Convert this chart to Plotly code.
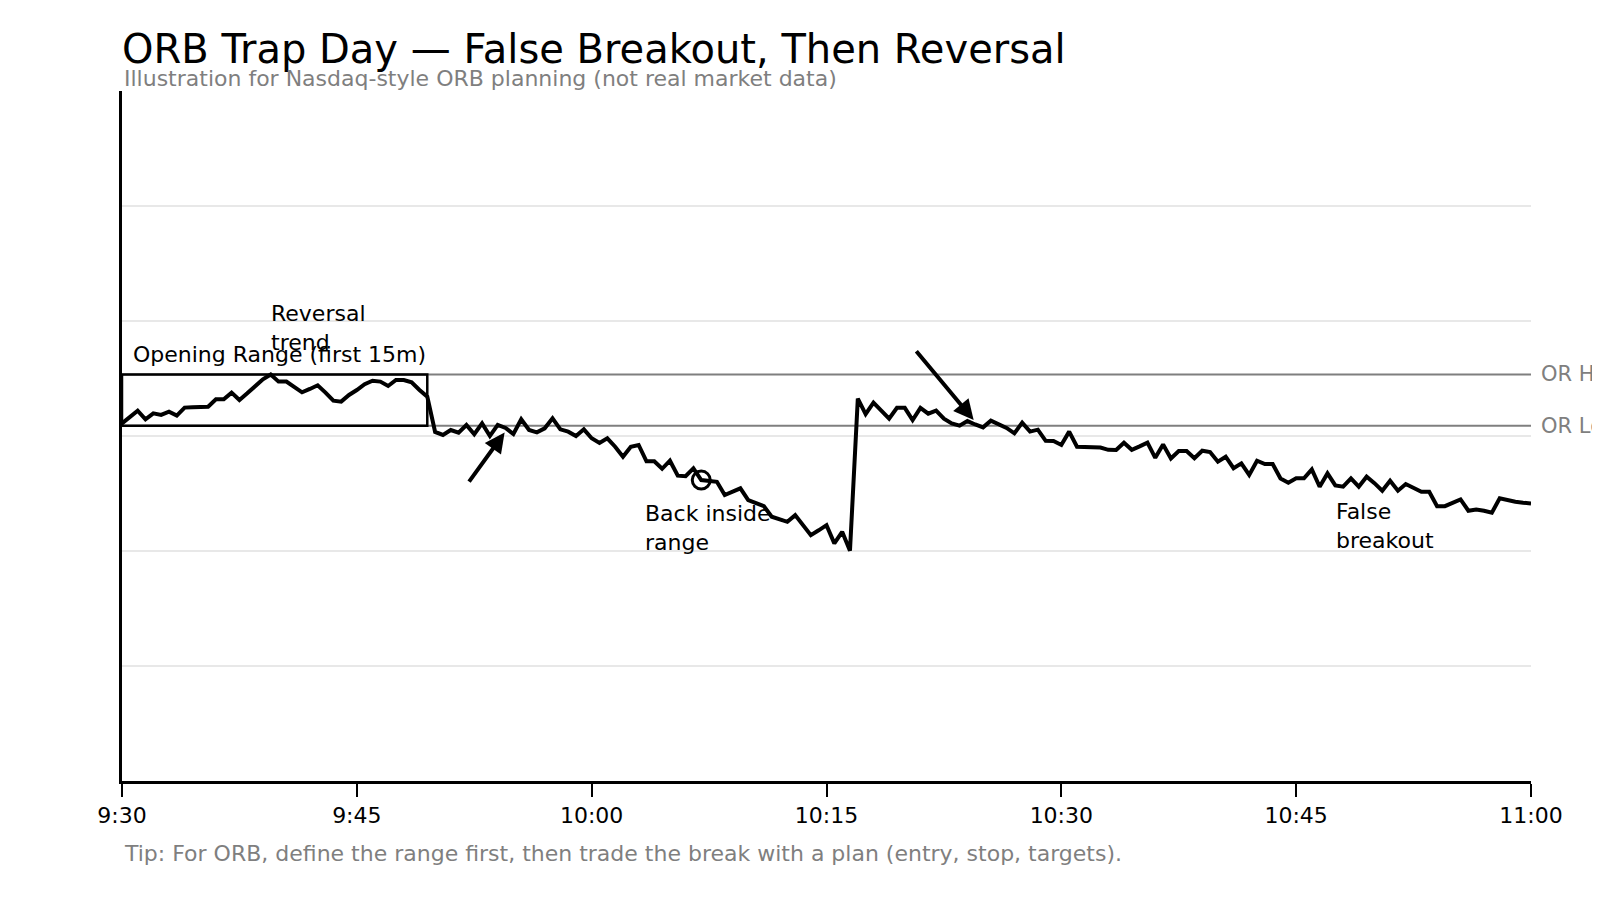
import pandas as pd
import plotly.graph_objects as go

# ---------------- data (illustrative 30-second prices) ----------------
price = [
    101.10, 101.70, 102.20, 101.45, 101.97, 101.83, 102.12, 101.77, 102.47, 102.50,
    102.55, 102.55, 103.19, 103.19, 103.77, 103.13, 103.71, 104.35, 104.93, 105.35,
    104.73, 104.73, 104.30, 103.80, 104.09, 104.41, 103.77, 103.07, 102.99, 103.57,
    104.00, 104.50, 104.81, 104.73, 104.35, 104.87, 104.87, 104.67, 104.00, 103.42,
    100.35, 100.09, 100.52, 100.29, 100.96, 100.15, 101.10, 100.00, 100.96, 100.70,
    100.17, 101.45, 100.52, 100.32, 100.67, 101.54, 100.58, 100.38, 100.00, 100.58,
    99.80, 99.40, 99.80, 99.07, 98.20, 99.07, 99.22, 97.80, 97.80, 97.15,
    97.85, 96.55, 96.50, 97.19, 96.17, 96.10, 96.02, 94.87, 95.20, 95.45,
    94.43, 94.20, 93.90, 92.98, 92.80, 92.54, 93.12, 92.20, 91.38, 91.80,
    92.25, 90.66, 91.67, 90.02, 103.25, 101.90, 102.90, 102.20, 101.50, 102.45,
    102.45, 101.39, 102.45, 101.94, 102.20, 101.50, 101.10, 100.90, 101.30, 101.00,
    100.75, 101.33, 101.04, 100.70, 100.23, 101.16, 100.38, 100.55, 99.58, 99.56,
    99.22, 100.38, 99.07, 99.07, 99.07, 99.00, 98.80, 98.78, 99.42, 98.80,
    99.10, 99.42, 98.10, 99.26, 98.05, 98.70, 98.69, 98.06, 98.72, 98.60,
    97.77, 98.20, 97.20, 97.62, 96.61, 97.85, 97.56, 97.56, 96.30, 95.94,
    96.32, 96.32, 97.10, 95.59, 96.75, 95.70, 95.59, 96.32, 95.59, 96.46,
    95.90, 95.24, 96.11, 95.24, 95.82, 95.50, 95.15, 95.15, 93.90, 93.90,
    94.20, 94.49, 93.50, 93.60, 93.50, 93.33, 94.58, 94.40, 94.28, 94.20,
    94.14,
]
session_start = "2024-01-02 09:30:00"
tick_labels = ["9:30", "9:45", "10:00", "10:15", "10:30", "10:45", "11:00"]
OR_HIGH = 105.35
OR_LOW = 100.90
OR_END_MIN = 19.5          # opening-range box right edge (minutes after open)
marker_index = 74          # "back inside" circle

start = pd.Timestamp(session_start)
times = pd.date_range(start, periods=len(price), freq="30s")
tick_vals = [start + pd.Timedelta(minutes=15 * k) for k in range(len(tick_labels))]


def T(m):
    return start + pd.Timedelta(minutes=m)


FONT = "DejaVu Sans"
GRAY = "#7f7f7f"

fig = go.Figure()

fig.add_trace(go.Scatter(
    x=times, y=price, mode="lines",
    line=dict(color="black", width=4),
    hoverinfo="skip", showlegend=False,
))
fig.add_trace(go.Scatter(
    x=[times[marker_index]], y=[price[marker_index]], mode="markers",
    marker=dict(symbol="circle-open", size=18, color="black", line=dict(width=3, color="black")),
    hoverinfo="skip", showlegend=False,
))

# OR high / low lines
for lvl in (OR_HIGH, OR_LOW):
    fig.add_shape(type="line", xref="paper", x0=0, x1=1, yref="y", y0=lvl, y1=lvl,
                  line=dict(color=GRAY, width=2), layer="between")
# opening range box
fig.add_shape(type="rect", xref="x", yref="y", x0=times[0], x1=T(OR_END_MIN),
              y0=OR_LOW, y1=OR_HIGH, line=dict(color="black", width=2.5),
              fillcolor="rgba(0,0,0,0)", layer="above")

ann = []
ann.append(dict(xref="paper", yref="y", x=1, y=OR_HIGH, xanchor="left", yanchor="middle",
                xshift=8, text="OR High", showarrow=False, font=dict(size=21, color=GRAY, family=FONT)))
ann.append(dict(xref="paper", yref="y", x=1, y=OR_LOW, xanchor="left", yanchor="middle",
                xshift=8, text="OR Low", showarrow=False, font=dict(size=21, color=GRAY, family=FONT)))
ann.append(dict(xref="x", yref="y", x=T(0.6), y=107.05, xanchor="left", yanchor="middle",
                text="Opening Range (first 15m)", showarrow=False, font=dict(size=22, color="black", family=FONT)))
ann.append(dict(xref="x", yref="y", x=T(9.4), y=109.4, xanchor="left", yanchor="middle", align="left",
                text="Reversal<br>trend", showarrow=False, font=dict(size=22, color="black", family=FONT)))
ann.append(dict(xref="x", yref="y", x=T(33.3), y=92.0, xanchor="left", yanchor="middle", align="left",
                text="Back inside<br>range", showarrow=False, font=dict(size=22, color="black", family=FONT)))
ann.append(dict(xref="x", yref="y", x=T(77.4), y=92.15, xanchor="left", yanchor="middle", align="left",
                text="False<br>breakout", showarrow=False, font=dict(size=22, color="black", family=FONT)))
# arrows
ann.append(dict(xref="x", yref="y", axref="x", ayref="y", x=T(24.44), y=100.3, ax=T(22.1), ay=95.9,
                text="", showarrow=True, arrowhead=2, arrowsize=1, arrowwidth=4, arrowcolor="black"))
ann.append(dict(xref="x", yref="y", axref="x", ayref="y", x=T(54.4), y=101.4, ax=T(50.66), ay=107.5,
                text="", showarrow=True, arrowhead=2, arrowsize=1, arrowwidth=4, arrowcolor="black"))
# subtitle and footer
ann.append(dict(xref="paper", yref="paper", x=0, y=1.0184, xanchor="left", yanchor="middle",
                text="Illustration for Nasdaq-style ORB planning (not real market data)",
                showarrow=False, font=dict(size=22, color=GRAY, family=FONT)))
ann.append(dict(xref="paper", yref="paper", x=0, y=-0.105, xanchor="left", yanchor="middle",
                text="Tip: For ORB, define the range first, then trade the break with a plan (entry, stop, targets).",
                showarrow=False, font=dict(size=22, color=GRAY, family=FONT)))

fig.update_layout(
    width=1600, height=900,
    margin=dict(l=114, r=77, t=83, b=127),
    paper_bgcolor="white", plot_bgcolor="white",
    font=dict(family=FONT, color="black"),
    title=dict(text="ORB Trap Day — False Breakout, Then Reversal", xref="paper", x=0, xanchor="left",
               yref="container", y=1 - 41 / 900, yanchor="middle",
               font=dict(size=40, color="black", family=FONT)),
    annotations=ann,
    showlegend=False,
)
fig.update_xaxes(
    type="date", range=[times[0], times[-1]],
    tickvals=tick_vals, ticktext=tick_labels,
    ticks="outside", ticklen=13, tickwidth=2, tickcolor="black",
    showline=True, linecolor="black", linewidth=3,
    showgrid=False, zeroline=False,
    tickfont=dict(size=22, color="black", family=FONT),
)
fig.update_yaxes(
    range=[70, 130], tickvals=[80, 90, 100, 110, 120], showticklabels=False,
    showgrid=True, gridcolor="#e8e8e8", gridwidth=1.5,
    showline=True, linecolor="black", linewidth=2.5, zeroline=False, ticks="",
)

fig.write_html("out.html")
